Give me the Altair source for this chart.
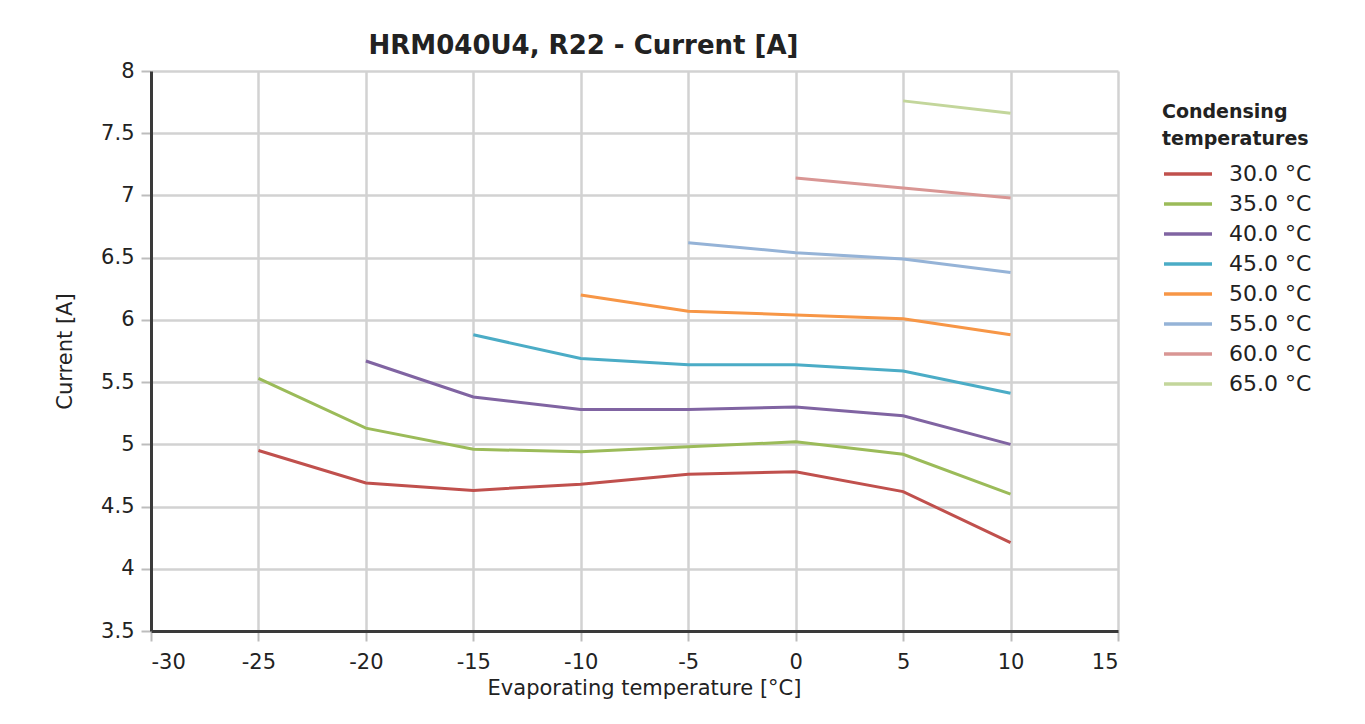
import altair as alt
import pandas as pd

# ---- data ----
evap = [-25, -20, -15, -10, -5, 0, 5, 10]
c30 = [4.95, 4.69, 4.63, 4.68, 4.76, 4.78, 4.62, 4.21]
c35 = [5.53, 5.13, 4.96, 4.94, 4.98, 5.02, 4.92, 4.60]
c40 = [None, 5.67, 5.38, 5.28, 5.28, 5.30, 5.23, 5.00]
c45 = [None, None, 5.88, 5.69, 5.64, 5.64, 5.59, 5.41]
c50 = [None, None, None, 6.20, 6.07, 6.04, 6.01, 5.88]
c55 = [None, None, None, None, 6.62, 6.54, 6.49, 6.38]
c60 = [None, None, None, None, None, 7.14, 7.06, 6.98]
c65 = [None, None, None, None, None, None, 7.76, 7.66]

series_labels = ["30.0 °C", "35.0 °C", "40.0 °C", "45.0 °C",
                 "50.0 °C", "55.0 °C", "60.0 °C", "65.0 °C"]
series_values = [c30, c35, c40, c45, c50, c55, c60, c65]
colors = ["#C0504D", "#9BBB59", "#8064A2", "#4BACC6",
          "#F79646", "#95B3D7", "#D99694", "#C3D69B"]

x_ticks = [-30, -25, -20, -15, -10, -5, 0, 5, 10, 15]
y_ticks = [3.5, 4, 4.5, 5, 5.5, 6, 6.5, 7, 7.5, 8]

rows = []
for lab, vals in zip(series_labels, series_values):
    for i, (xv, yv) in enumerate(zip(evap, vals)):
        if yv is not None:
            rows.append({"series": lab, "evap": xv, "current": yv, "order": i})
df = pd.DataFrame(rows)

FONT = "DejaVu Sans"
TXT = "#222222"

chart = alt.Chart(df).mark_line(strokeWidth=3).encode(
    x=alt.X("evap:Q",
            scale=alt.Scale(domain=[-30, 15], nice=False, zero=False),
            axis=alt.Axis(values=x_ticks, labelExpr="datum.value + ''",
                          title="Evaporating temperature [°C]",
                          titleX=493, titleY=63, titleBaseline="alphabetic",
                          labelPadding=10)),
    y=alt.Y("current:Q",
            scale=alt.Scale(domain=[3.5, 8], nice=False, zero=False),
            axis=alt.Axis(values=y_ticks, labelExpr="datum.value + ''",
                          title="Current [A]",
                          titleX=-86, titleY=280, titleAngle=-90,
                          titleAlign="center", titleBaseline="middle",
                          labelPadding=7)),
    color=alt.Color("series:N",
                    scale=alt.Scale(domain=series_labels, range=colors),
                    legend=alt.Legend(title=["Condensing", "temperatures"],
                                      orient="none", legendX=1011, legendY=32,
                                      symbolType="stroke", symbolSize=2304,
                                      symbolStrokeWidth=3.5, clipHeight=22,
                                      rowPadding=8, labelOffset=15,
                                      titlePadding=14)),
    order="order:Q",
).properties(
    width=967,
    height=560,
    autosize=alt.AutoSizeParams(type="none"),
    padding={"left": 143, "top": 63, "right": 230, "bottom": 80},
    title=alt.TitleParams("HRM040U4, R22 - Current [A]", font=FONT,
                          fontSize=26, fontWeight="bold", color=TXT,
                          anchor="middle", dx=-51, offset=1),
).configure_view(
    stroke=None
).configure_axis(
    labelFont=FONT, labelFontSize=21, labelColor=TXT,
    titleFont=FONT, titleFontSize=21, titleColor=TXT, titleFontWeight="normal",
    gridColor="#d2d2d2", gridWidth=2.5, gridOpacity=1,
    domainColor="#3a3a3a", domainWidth=3,
    tickColor="#bdbdbd", tickSize=10, tickWidth=2,
).configure_legend(
    titleFont=FONT, titleFontSize=19, titleFontWeight="bold", titleColor=TXT,
    titleLineHeight=27, labelFont=FONT, labelFontSize=22, labelColor=TXT,
    padding=0,
)

chart.save("out.html", embed_options={"renderer": "svg", "actions": False})
